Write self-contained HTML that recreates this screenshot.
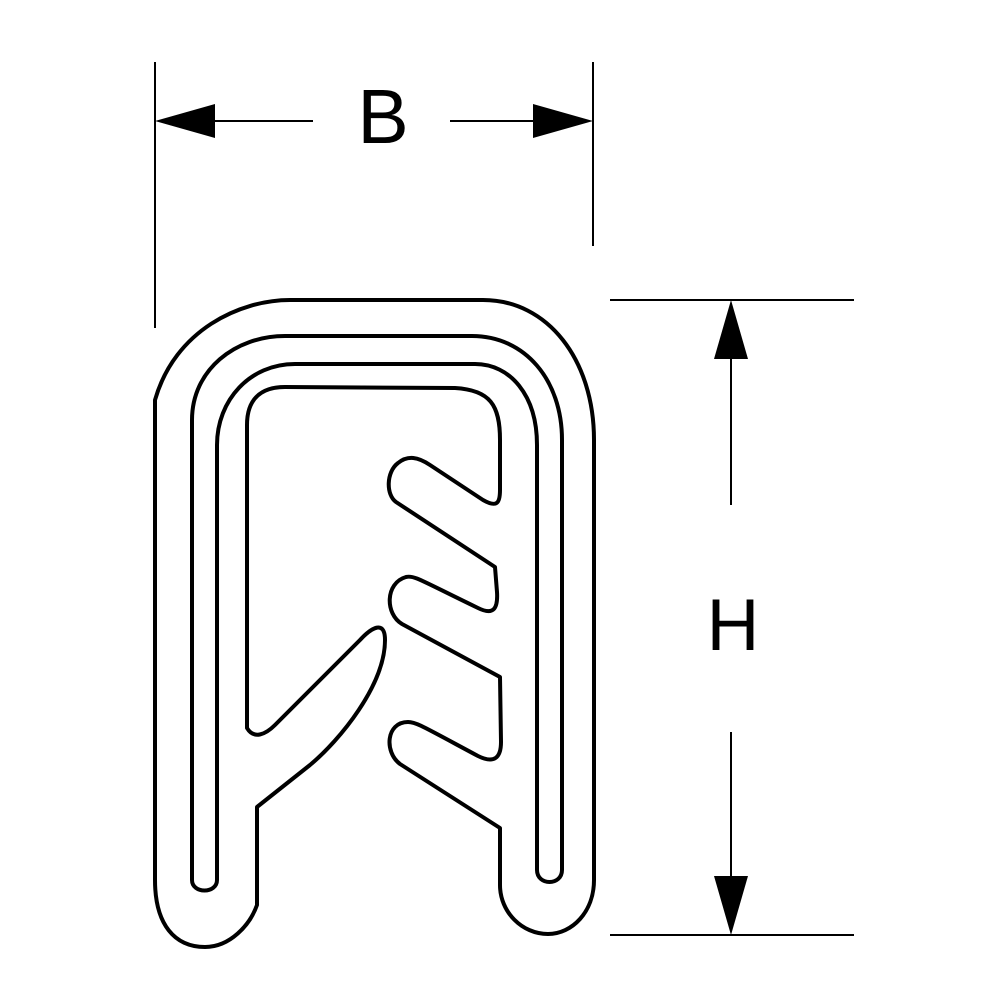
<!DOCTYPE html>
<html><head><meta charset="utf-8"><style>
html,body{margin:0;padding:0;background:#fff;}
svg{display:block}
</style></head><body>
<svg width="1000" height="1000" viewBox="0 0 1000 1000" xmlns="http://www.w3.org/2000/svg">
<rect width="1000" height="1000" fill="#fff"/>
<g stroke="#000" stroke-width="2" fill="none">
<line x1="155" y1="62" x2="155" y2="328"/>
<line x1="593" y1="62" x2="593" y2="246"/>
<line x1="210" y1="121" x2="313" y2="121"/>
<line x1="450" y1="121" x2="535" y2="121"/>
<line x1="610" y1="300" x2="854" y2="300"/>
<line x1="610" y1="935" x2="854" y2="935"/>
<line x1="731" y1="355" x2="731" y2="505"/>
<line x1="731" y1="732" x2="731" y2="880"/>
</g>
<g fill="#000">
<polygon points="155,121 215,104 215,138"/>
<polygon points="593,121 533,104 533,138"/>
<polygon points="731,300 714,359 748,359"/>
<polygon points="731,935 714,876 748,876"/>
</g>
<text x="383" y="143" font-family="Liberation Sans, sans-serif" font-size="77" text-anchor="middle">B</text>
<text x="733" y="650" font-family="Liberation Sans, sans-serif" font-size="73" text-anchor="middle">H</text>
<g stroke="#000" stroke-width="4" fill="none" stroke-linejoin="round">
<path d="M 290,300 L 483,300 C 548,300 594,360 594,440 L 594,880 C 594,912 572,934 548,934 C 522,934 500,912 500,885 L 500,828 L 400,764 C 384,752 386,722 408,722 C 416,722 422,726 478,756 C 494,764 501,758 501,742 L 500,677 L 402,624 C 385,614 385,583 406,577 C 414,575 420,580 478,608 C 494,616 498,608 497,592 L 495,567 L 396,502 C 386,495 386,472 398,463 C 408,455 418,457 430,465 L 483,500 C 497,508 500,503 500,490 L 500,440 C 500,405 490,390 455,388 L 285,387 C 260,387 247,400 247,425 L 247,728 C 254,740 266,734 275,725 L 360,640 C 372,627 385,620 385,640 C 385,685 340,740 310,765 L 257,807 L 257,905 C 250,925 230,947 205,947 C 175,947 155,925 155,880 L 155,400 C 175,330 240,300 290,300 Z"/>
<path d="M 192,880 L 192,420 C 192,370 235,336 285,336 L 472,336 C 525,336 562,380 562,440 L 562,870 C 562,886 537,886 537,870 L 537,445 C 537,395 510,364 475,364 L 295,364 C 250,364 217,400 217,445 L 217,880 C 217,894 192,894 192,880 Z"/>
</g>
</svg>
</body></html>
